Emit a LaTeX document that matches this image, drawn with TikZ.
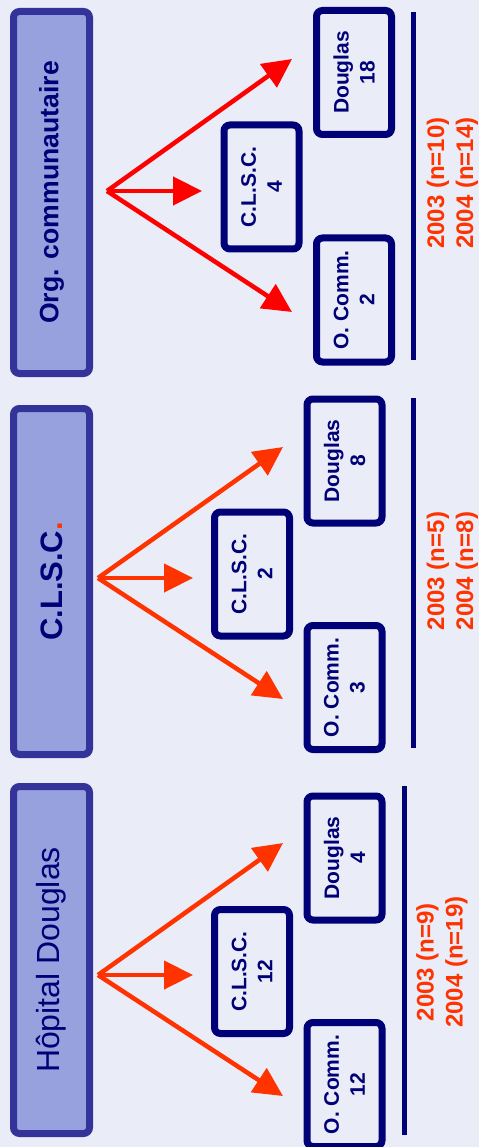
\documentclass[tikz,border=0pt]{standalone}
\usepackage{fontspec}
\setmainfont{Liberation Sans}
\usepackage{tikz}
\usetikzlibrary{arrows.meta,positioning}
\definecolor{bgcol}{HTML}{EAECF8}
\definecolor{headfill}{HTML}{97A1DD}
\definecolor{headline}{HTML}{333399}
\definecolor{navy}{HTML}{000077}
\definecolor{flame}{HTML}{FF3300}
\definecolor{pure}{HTML}{FF0000}

\begin{document}
\begin{tikzpicture}[x=1pt,y=-1pt,
	>={Triangle[length=29pt,width=28pt]},
	headbox/.style={draw=headline,fill=headfill,line width=7pt,rounded corners=6pt,
		rotate=90,minimum height=76pt,inner sep=0pt,text=navy},
	countbox/.style={draw=navy,line width=7pt,rounded corners=6pt,rotate=90,
		minimum width=124pt,minimum height=75pt,inner sep=0pt,text=navy,align=center,
		font=\fontsize{21}{26}\selectfont\bfseries},
	yeartext/.style={rotate=90,align=center,text=flame,inner sep=0pt,
		font=\fontsize{24}{29}\selectfont\bfseries},
	flow/.style={->,line width=4.5pt},
	rule/.style={draw=navy,line width=5pt}]
\useasboundingbox (0,0) rectangle (479,1147);
\fill[bgcol] (0,0) rectangle (479,1147);

% Org. communautaire
\node	[headbox,minimum width=362pt,font=\fontsize{26.6}{30}\selectfont\bfseries]	(h1)	at (51.5,192.5)	{Org. communautaire};
\node	[countbox]	(d1)	at (354,72.5)	{Douglas\\18};
\node	[countbox]	(c1)	at (261.5,187)	{C.L.S.C.\\4};
\node	[countbox]	(o1)	at (354,300)	{O. Comm.\\2};
\node	[yeartext]	(y1)	at (452.5,183)	{2003 (n=10)\\2004 (n=14)};
\coordinate	(s1)	at (107,191);
\coordinate	(t1d)	at (292,59);
\coordinate	(t1c)	at (202,191);
\coordinate	(t1o)	at (292,312);
\coordinate	(r1a)	at (413,12);
\coordinate	(r1b)	at (413,360);

% C.L.S.C.
\node	[headbox,minimum width=346pt,font=\fontsize{31}{34}\selectfont\bfseries]	(h2)	at (51.5,581.5)	{C.L.S.C\textcolor{flame}{.}};
\node	[countbox]	(d2)	at (344.5,461)	{Douglas\\8};
\node	[countbox]	(c2)	at (252,574)	{C.L.S.C.\\2};
\node	[countbox]	(o2)	at (344.5,687.5)	{O. Comm.\\3};
\node	[yeartext]	(y2)	at (452.5,571)	{2003 (n=5)\\2004 (n=8)};
\coordinate	(s2)	at (98,578);
\coordinate	(t2d)	at (283,447);
\coordinate	(t2c)	at (193,578);
\coordinate	(t2o)	at (283,699);
\coordinate	(r2a)	at (413,398);
\coordinate	(r2b)	at (413,748);

% Hopital Douglas
\node	[headbox,minimum width=347pt,font=\fontsize{32}{35}\selectfont]	(h3)	at (51.5,960)	{Hôpital Douglas};
\node	[countbox]	(d3)	at (344.5,858)	{Douglas\\4};
\node	[countbox]	(c3)	at (252,971.5)	{C.L.S.C.\\12};
\node	[countbox]	(o3)	at (344.5,1084.5)	{O. Comm.\\12};
\node	[yeartext]	(y3)	at (442,962)	{2003 (n=9)\\2004 (n=19)};
\coordinate	(s3)	at (98,975);
\coordinate	(t3d)	at (283,843);
\coordinate	(t3c)	at (193,975);
\coordinate	(t3o)	at (283,1096);
\coordinate	(r3a)	at (404,786);
\coordinate	(r3b)	at (404,1135);

\path	[flow,pure]
	(s1)	edge	(t1d)
	(s1)	edge	(t1c)
	(s1)	edge	(t1o)
;
\path	[flow,flame]
	(s2)	edge	(t2d)
	(s2)	edge	(t2c)
	(s2)	edge	(t2o)
	(s3)	edge	(t3d)
	(s3)	edge	(t3c)
	(s3)	edge	(t3o)
;
\draw	[rule]	(r1a) -- (r1b);
\draw	[rule]	(r2a) -- (r2b);
\draw	[rule]	(r3a) -- (r3b);
\end{tikzpicture}
\end{document}
